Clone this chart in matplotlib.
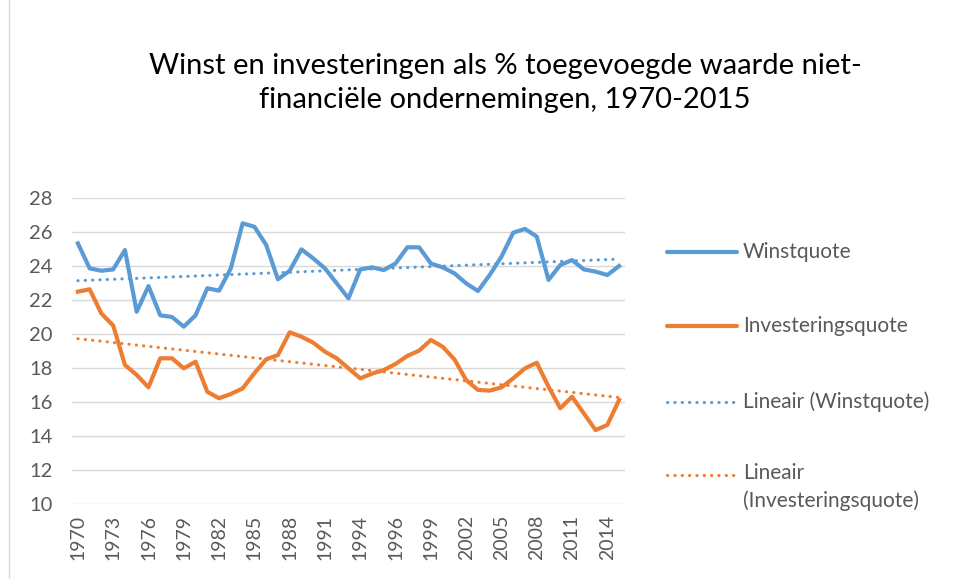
import numpy as np
import matplotlib
matplotlib.use("Agg")
import matplotlib.pyplot as plt
from matplotlib.lines import Line2D

plt.rcParams['font.family'] = ['Lato', 'DejaVu Sans']

# Categories (47 points: 1970-2015 with 1995 appearing twice, as in the source axis)
years = [str(y) for y in range(1970, 1996)] + ['1995'] + [str(y) for y in range(1996, 2016)]

winstquote = [25.33, 23.86, 23.72, 23.80, 24.94, 21.31, 22.82, 21.10, 21.00, 20.43,
              21.10, 22.69, 22.55, 23.86, 26.51, 26.31, 25.24, 23.22, 23.72, 24.98,
              24.45, 23.86, 22.98, 22.10, 23.80, 23.92, 23.76, 24.15, 25.10, 25.10,
              24.15, 23.92, 23.57, 22.98, 22.53, 23.47, 24.55, 25.96, 26.18, 25.73,
              23.18, 24.06, 24.35, 23.80, 23.67, 23.47, 24.00]

investeringsquote = [22.49, 22.63, 21.20, 20.50, 18.18, 17.59, 16.86, 18.57, 18.57, 17.98,
                     18.37, 16.60, 16.22, 16.47, 16.80, 17.69, 18.51, 18.76, 20.10, 19.84,
                     19.49, 18.96, 18.57, 17.98, 17.39, 17.67, 17.88, 18.24, 18.71, 19.02,
                     19.65, 19.25, 18.51, 17.29, 16.71, 16.67, 16.86, 17.39, 17.98, 18.31,
                     16.90, 15.63, 16.31, 15.33, 14.35, 14.65, 16.12]

yticks = [10, 12, 14, 16, 18, 20, 22, 24, 26, 28]
title = "Winst en investeringen als % toegevoegde waarde niet-\nfinanciële ondernemingen, 1970-2015"
labels = ["Winstquote", "Investeringsquote", "Lineair (Winstquote)", "Lineair\n(Investeringsquote)"]

BLUE = "#5B9BD5"
ORANGE = "#ED7D31"
GRID = "#D9D9D9"
TXT = "#595959"

W, H = 959, 579
fig = plt.figure(figsize=(W / 100, H / 100), dpi=100)

def fx(px):
    return px / W

def fy(py):
    return 1 - py / H

# light chart-area border on the left edge
fig.add_artist(Line2D([fx(9), fx(9)], [0, 1], color=GRID, lw=1.0))

ax = fig.add_axes([fx(72), fy(504), fx(625) - fx(72), fy(198) - fy(504)])

x = np.arange(len(years))
ax.plot(x, winstquote, color=BLUE, lw=3.0, solid_joinstyle='round', zorder=3)
ax.plot(x, investeringsquote, color=ORANGE, lw=3.0, solid_joinstyle='round', zorder=3)

dot = (0, (0.1, 2.3))
for series, col in [(winstquote, BLUE), (investeringsquote, ORANGE)]:
    k, b = np.polyfit(x, series, 1)
    ax.plot(x, k * x + b, color=col, lw=2.2, linestyle=dot, dash_capstyle='round', zorder=2)

ax.set_xlim(-0.5, len(years) - 0.5)
ax.set_ylim(10, 28)
ax.set_yticks(yticks)
ax.set_yticklabels([str(v) for v in yticks])
ax.set_xticks(x[::3])
ax.set_xticklabels(years[::3], rotation=90)
ax.grid(axis='y', color=GRID, lw=1.0, zorder=0)
ax.set_axisbelow(True)
for s in ax.spines.values():
    s.set_visible(False)
ax.tick_params(axis='y', length=0, pad=14, labelsize=14.5, labelcolor=TXT)
ax.tick_params(axis='x', length=0, pad=8, labelsize=14, labelcolor=TXT)

fig.text(fx(505), fy(83), title, ha='center', va='center', fontsize=21,
         color='#000000', linespacing=1.4)

# legend drawn manually (first line of the last label aligned with its handle)
entries = [(BLUE, '-', 252), (ORANGE, '-', 326), (BLUE, dot, 402), (ORANGE, dot, 475)]
for (col, ls, py), lab in zip(entries, labels):
    if ls == '-':
        fig.add_artist(Line2D([fx(667), fx(737)], [fy(py), fy(py)], color=col, lw=3.0,
                              solid_capstyle='round'))
    else:
        fig.add_artist(Line2D([fx(667), fx(737)], [fy(py), fy(py)], color=col, lw=2.2,
                              linestyle=ls, dash_capstyle='round'))
    if '\n' in lab:
        fig.text(fx(743), fy(py - 12), lab, ha='left', va='top', fontsize=15,
                 color=TXT, linespacing=1.45)
    else:
        fig.text(fx(743), fy(py), lab, ha='left', va='center', fontsize=15, color=TXT)

fig.savefig("out.png", dpi=100)
